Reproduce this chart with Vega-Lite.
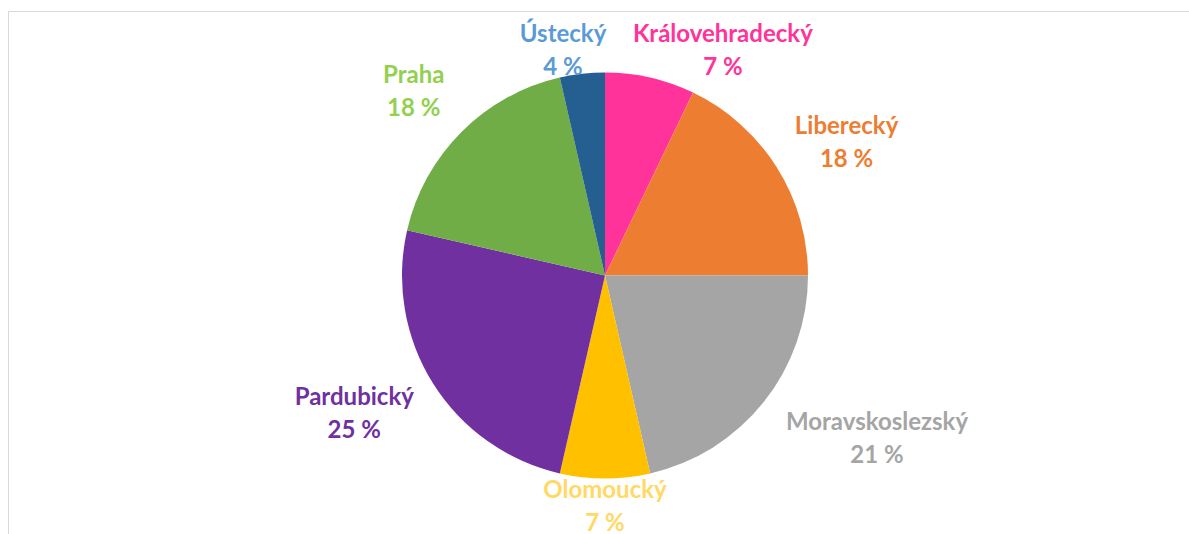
{
  "$schema": "https://vega.github.io/schema/vega-lite/v6.json",
  "width": 1181,
  "height": 523,
  "autosize": {"type": "none"},
  "padding": {"left": 8, "top": 11, "right": 0, "bottom": 0},
  "background": "white",
  "config": {
    "view": {"stroke": "#D9D9D9", "strokeWidth": 1},
    "text": {"font": "Lato", "fontWeight": "bold", "fontSize": 24, "lineHeight": 33, "align": "center", "baseline": "middle", "dy": -15}
  },
  "data": {
    "values": [
      {"region": "Královehradecký", "count": 2},
      {"region": "Liberecký", "count": 5},
      {"region": "Moravskoslezský", "count": 6},
      {"region": "Olomoucký", "count": 2},
      {"region": "Pardubický", "count": 7},
      {"region": "Praha", "count": 5},
      {"region": "Ústecký", "count": 1}
    ]
  },
  "layer": [
    {
      "mark": {"type": "point", "opacity": 0},
      "encoding": {
        "x": {"field": "count", "type": "quantitative", "axis": null},
        "y": {"field": "count", "type": "quantitative", "axis": null}
      }
    },
    {
      "mark": {"type": "arc", "radius": 203, "xOffset": 6.5, "yOffset": 3},
      "encoding": {
        "theta": {"field": "count", "type": "quantitative", "stack": true},
        "order": {"field": "region", "sort": "ascending"},
        "color": {
          "field": "region",
          "type": "nominal",
          "scale": {
            "domain": ["Královehradecký", "Liberecký", "Moravskoslezský", "Olomoucký", "Pardubický", "Praha", "Ústecký"],
            "range": ["#FF3399", "#ED7D31", "#A5A5A5", "#FFC000", "#7030A0", "#70AD47", "#255E91"]
          },
          "legend": null
        }
      }
    },
    {
      "mark": {"type": "text", "radius": 254.5, "thetaOffset": 0.257, "xOffset": 6.5, "yOffset": 3, "color": "#FF3399"},
      "encoding": {"theta": {"field": "count", "type": "quantitative", "stack": true}, "order": {"field": "region", "sort": "ascending"}, "detail": {"field": "region"}, "text": {"condition": {"test": "datum.region === 'Královehradecký'", "value": ["Královehradecký", "7 %"]}, "value": ""}}
    },
    {
      "mark": {"type": "text", "radius": 276, "thetaOffset": 0.056, "xOffset": 6.5, "yOffset": 3, "color": "#ED7D31"},
      "encoding": {"theta": {"field": "count", "type": "quantitative", "stack": true}, "order": {"field": "region", "sort": "ascending"}, "detail": {"field": "region"}, "text": {"condition": {"test": "datum.region === 'Liberecký'", "value": ["Liberecký", "18 %"]}, "value": ""}}
    },
    {
      "mark": {"type": "text", "radius": 317, "thetaOffset": -0.134, "xOffset": 6.5, "yOffset": 3, "color": "#A5A5A5"},
      "encoding": {"theta": {"field": "count", "type": "quantitative", "stack": true}, "order": {"field": "region", "sort": "ascending"}, "detail": {"field": "region"}, "text": {"condition": {"test": "datum.region === 'Moravskoslezský'", "value": ["Moravskoslezský", "21 %"]}, "value": ""}}
    },
    {
      "mark": {"type": "text", "radius": 230, "thetaOffset": 0, "xOffset": 6.5, "yOffset": 3, "color": "#FFD966"},
      "encoding": {"theta": {"field": "count", "type": "quantitative", "stack": true}, "order": {"field": "region", "sort": "ascending"}, "detail": {"field": "region"}, "text": {"condition": {"test": "datum.region === 'Olomoucký'", "value": ["Olomoucký", "7 %"]}, "value": ""}}
    },
    {
      "mark": {"type": "text", "radius": 286, "thetaOffset": 0.059, "xOffset": 6.5, "yOffset": 3, "color": "#7030A0"},
      "encoding": {"theta": {"field": "count", "type": "quantitative", "stack": true}, "order": {"field": "region", "sort": "ascending"}, "detail": {"field": "region"}, "text": {"condition": {"test": "datum.region === 'Pardubický'", "value": ["Pardubický", "25 %"]}, "value": ""}}
    },
    {
      "mark": {"type": "text", "radius": 266, "thetaOffset": -0.017, "xOffset": 6.5, "yOffset": 3, "color": "#92D050"},
      "encoding": {"theta": {"field": "count", "type": "quantitative", "stack": true}, "order": {"field": "region", "sort": "ascending"}, "detail": {"field": "region"}, "text": {"condition": {"test": "datum.region === 'Praha'", "value": ["Praha", "18 %"]}, "value": ""}}
    },
    {
      "mark": {"type": "text", "radius": 229, "thetaOffset": -0.072, "xOffset": 6.5, "yOffset": 3, "color": "#5B9BD5"},
      "encoding": {"theta": {"field": "count", "type": "quantitative", "stack": true}, "order": {"field": "region", "sort": "ascending"}, "detail": {"field": "region"}, "text": {"condition": {"test": "datum.region === 'Ústecký'", "value": ["Ústecký", "4 %"]}, "value": ""}}
    }
  ]
}
